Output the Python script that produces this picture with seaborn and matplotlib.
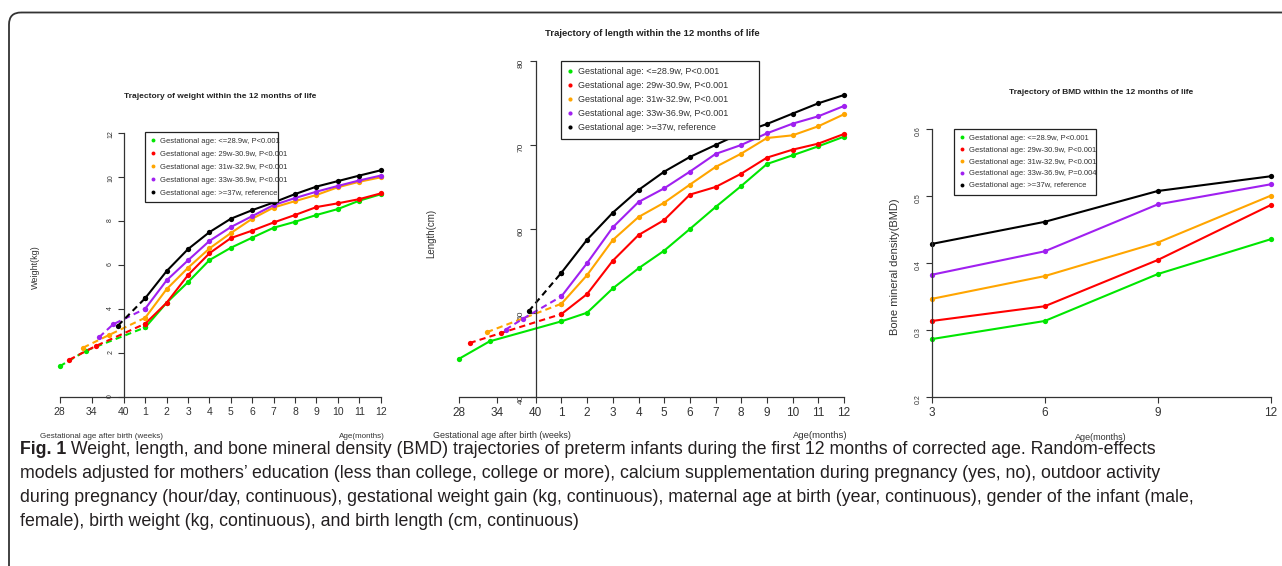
import pandas as pd
import seaborn as sns
import matplotlib.pyplot as plt
from matplotlib.lines import Line2D
from matplotlib.patches import FancyBboxPatch
from matplotlib import font_manager

W, H = 1282, 566

# groups and colours
groups = ["<=28.9w", "29w-30.9w", "31w-32.9w", "33w-36.9w", ">=37w"]
colors = ["#00e600", "#ff0000", "#ffa500", "#a020f0", "#000000"]
months = list(range(1, 13))
bmd_months = [3, 6, 9, 12]

# weight (kg): gestational weeks part + months 1..12
weight_wk = [[28, 32.9], [29.8, 34.8], [32.4, 37.2], [35.4, 38.0], [38.9]]
weight_wk_val = [[1.38, 2.09], [1.68, 2.31], [2.23, 2.80], [2.71, 3.29], [3.23]]
weight_mon = [
    [3.15, 4.27, 5.21, 6.21, 6.77, 7.23, 7.68, 7.95, 8.26, 8.53, 8.91, 9.20],
    [3.32, 4.27, 5.53, 6.52, 7.21, 7.55, 7.92, 8.26, 8.62, 8.79, 8.98, 9.24],
    [3.59, 4.89, 5.86, 6.74, 7.44, 8.09, 8.60, 8.89, 9.17, 9.52, 9.77, 9.97],
    [4.00, 5.29, 6.20, 7.08, 7.71, 8.21, 8.71, 9.03, 9.32, 9.58, 9.83, 10.05],
    [4.48, 5.71, 6.71, 7.48, 8.09, 8.48, 8.83, 9.21, 9.55, 9.80, 10.05, 10.29],
]

# length (cm)
length_wk = [[28, 32.8], [29.7, 34.6], [32.4], [35.3, 38.0], [38.9]]
length_wk_val = [[44.5, 46.6], [46.4, 47.6], [47.7], [48.0, 49.3], [50.2]]
length_mon = [
    [48.99, 50.02, 52.92, 55.31, 57.42, 60.00, 62.62, 65.13, 67.75, 68.79, 69.86, 71.01],
    [49.86, 52.25, 56.22, 59.28, 61.07, 64.10, 65.01, 66.60, 68.51, 69.46, 70.18, 71.33],
    [51.09, 54.51, 58.69, 61.43, 63.14, 65.29, 67.40, 68.99, 70.85, 71.17, 72.25, 73.68],
    [51.97, 55.94, 60.20, 63.22, 64.85, 66.84, 68.95, 70.02, 71.41, 72.56, 73.44, 74.67],
    [54.79, 58.73, 61.95, 64.65, 66.84, 68.59, 70.02, 71.45, 72.52, 73.76, 74.99, 75.98],
]

# BMD
bmd_val = [
    [0.286, 0.313, 0.383, 0.435],
    [0.313, 0.335, 0.404, 0.486],
    [0.346, 0.380, 0.430, 0.500],
    [0.382, 0.417, 0.487, 0.517],
    [0.428, 0.461, 0.507, 0.529],
]

p_wl = ["P<0.001", "P<0.001", "P<0.001", "P<0.001", "reference"]
p_bmd = ["P<0.001", "P<0.001", "P<0.001", "P=0.004", "reference"]

x_ticks_wl = ["28", "34", "40"] + [str(m) for m in months]

caption_lines = [
    " Weight, length, and bone mineral density (BMD) trajectories of preterm infants during the first 12 months of corrected age. Random-effects",
    "models adjusted for mothers\u2019 education (less than college, college or more), calcium supplementation during pregnancy (yes, no), outdoor activity",
    "during pregnancy (hour/day, continuous), gestational weight gain (kg, continuous), maternal age at birth (year, continuous), gender of the infant (male,",
    "female), birth weight (kg, continuous), and birth length (cm, continuous)",
]

sns.set_style("white")
names = {f.name for f in font_manager.fontManager.ttflist}
NARROW = "Liberation Sans Narrow" if "Liberation Sans Narrow" in names else "Liberation Sans"
plt.rcParams["font.family"] = ["Liberation Sans", "DejaVu Sans"]


def build(wk, wk_val, mon_val, solid_pre=()):
    # weeks 28..40 -> positions 0..3, months 1..12 -> positions 4..15
    rows = []
    for g, w, wv, mv in zip(groups, wk, wk_val, mon_val):
        pre = "solid" if g in solid_pre else "dashed"
        for a, b in zip(w, wv):
            rows.append((g, (a - 28) / 4, b, pre))
        rows.append((g, 4, mv[0], pre))
        for m, v in zip(months, mv):
            rows.append((g, m + 3, v, "solid"))
    return pd.DataFrame(rows, columns=["group", "pos", "value", "seg"])


def ax_at(l, t, r, b):
    return fig.add_axes([l / W, 1 - b / H, (r - l) / W, (b - t) / H])


def style_axes(ax, xlim, ylim, xt, xl, yt, yl, yaxis_x, xaxis_y, xb, yb, xfs, yfs, fam, ypad):
    ax.set_xlim(xlim)
    ax.set_ylim(ylim)
    ax.patch.set_alpha(0)
    for s in ["top", "right"]:
        ax.spines[s].set_visible(False)
    ax.spines["left"].set_position(("data", yaxis_x))
    ax.spines["left"].set_bounds(*yb)
    ax.spines["bottom"].set_position(("data", xaxis_y))
    ax.spines["bottom"].set_bounds(*xb)
    for s in ["left", "bottom"]:
        ax.spines[s].set_color("#333333")
        ax.spines[s].set_linewidth(0.9)
    ax.set_xticks(xt, xl)
    ax.set_yticks(yt, yl)
    ax.tick_params(direction="out", length=4, width=0.8, color="#333333",
                   labelcolor="#333333", bottom=True, left=True)
    ax.tick_params(axis="x", labelsize=xfs, pad=3.5)
    ax.tick_params(axis="y", labelsize=yfs, labelrotation=90, pad=ypad)
    for lab in ax.get_xticklabels() + ax.get_yticklabels():
        lab.set_family(fam)
    ax.set_xlabel("")
    ax.set_ylabel("")


def add_legend(ax, pvals, box, fs, spacing, fam, ms):
    x0, y0, x1, y1 = box
    handles = [Line2D([], [], linestyle="none", marker="o", markersize=ms,
                      markeredgewidth=0, color=c) for c in colors]
    labels = [f"Gestational age: {g}, {p}" for g, p in zip(groups, pvals)]
    leg = ax.legend(handles, labels, loc="upper left",
                    bbox_to_anchor=(x0 / W, 1 - y1 / H, (x1 - x0) / W, (y1 - y0) / H),
                    bbox_transform=fig.transFigure, mode="expand",
                    prop={"family": fam, "size": fs}, frameon=True, fancybox=False,
                    edgecolor="#222222", framealpha=1, borderpad=0.7,
                    labelspacing=spacing, handlelength=0.6, handletextpad=0.6,
                    borderaxespad=0)
    leg.get_frame().set_linewidth(0.9)
    for t in leg.get_texts():
        t.set_color("#333333")


def draw_lines(ax, df):
    sns.lineplot(data=df, x="pos", y="value", hue="group", style="seg",
                 hue_order=groups, palette=dict(zip(groups, colors)),
                 dashes={"solid": "", "dashed": (3, 2)}, marker="o", markersize=3.8,
                 markeredgewidth=0, linewidth=1.5, estimator=None, sort=False,
                 legend=False, ax=ax, clip_on=False)


fig = plt.figure(figsize=(W / 100, H / 100), dpi=100, facecolor="white")

bg = fig.add_axes([0, 0, 1, 1])
bg.set_xlim(0, W)
bg.set_ylim(H, 0)
bg.axis("off")
bg.add_patch(FancyBboxPatch((9, 12.5), 1500, 800, boxstyle="round,pad=0,rounding_size=12",
                            fill=False, edgecolor="#333333", linewidth=1.3))

# panel 1: weight
ax1 = ax_at(46.8, 121.7, 393.5, 407.7)
draw_lines(ax1, build(weight_wk, weight_wk_val, weight_mon))
style_axes(ax1, (-0.6, 15.6), (-0.5, 12.5), [0, 1.5, 3] + list(range(4, 16)), x_ticks_wl,
           list(range(0, 13, 2)), [str(v) for v in range(0, 13, 2)], 3, 0, (0, 15), (0, 12),
           7.5, 5, NARROW, 3)
add_legend(ax1, p_wl, (145, 132, 278, 199), 5.5, 0.75, NARROW, 2.8)

# panel 2: length
ax2 = ax_at(443.3, 44.5, 859.4, 413.5)
draw_lines(ax2, build(length_wk, length_wk_val, length_mon, solid_pre=("<=28.9w",)))
style_axes(ax2, (-0.6, 15.6), (38, 82), [0, 1.5, 3] + list(range(4, 16)), x_ticks_wl,
           list(range(40, 81, 10)), [str(v) for v in range(40, 81, 10)], 3, 40, (0, 15), (40, 80),
           8.5, 6, "Liberation Sans", 4)
add_legend(ax2, p_wl, (561, 61, 759, 134), 6.5, 0.55, "Liberation Sans", 3)

# panel 3: BMD
ax3 = ax_at(924.2, 115.3, 1278.2, 410.1)
bmd_df = pd.DataFrame({
    "group": [g for g in groups for _ in bmd_months],
    "pos": bmd_months * len(groups),
    "value": [v for row in bmd_val for v in row],
    "seg": "solid",
})
draw_lines(ax3, bmd_df)
style_axes(ax3, (2.8, 12.2), (0.18, 0.62), bmd_months, [str(m) for m in bmd_months],
           [0.2, 0.3, 0.4, 0.5, 0.6], ["0.2", "0.3", "0.4", "0.5", "0.6"], 3, 0.2, (3, 12), (0.2, 0.6),
           8.5, 5, NARROW, 3)
add_legend(ax3, p_bmd, (954, 129, 1096, 191), 5.5, 0.6, NARROW, 2.8)

# titles and axis labels (pixel positions on the background axes)
tc = "#222222"
bg.text(220, 96, "Trajectory of weight within the 12 months of life", ha="center", va="center",
        fontsize=6, fontweight="bold", family=NARROW, color=tc)
bg.text(652, 34, "Trajectory of length within the 12 months of life", ha="center", va="center",
        fontsize=6.8, fontweight="bold", color=tc)
bg.text(1101, 93, "Trajectory of BMD within the 12 months of life", ha="center", va="center",
        fontsize=6, fontweight="bold", family=NARROW, color=tc)

bg.text(35, 267, "Weight(kg)", rotation=90, ha="center", va="center", fontsize=6.5,
        family=NARROW, color="#333333")
bg.text(431, 233, "Length(cm)", rotation=90, ha="center", va="center", fontsize=7,
        color="#333333")
bg.text(895, 267, "Bone mineral density(BMD)", rotation=90, ha="center", va="center",
        fontsize=8, family=NARROW, color="#333333")

bg.text(40, 436, "Gestational age after birth (weeks)", ha="left", va="center", fontsize=5.8,
        family=NARROW, color="#333333")
bg.text(385, 436, "Age(months)", ha="right", va="center", fontsize=5.8, family=NARROW,
        color="#333333")
bg.text(433, 436, "Gestational age after birth (weeks)", ha="left", va="center", fontsize=6.5,
        color="#333333")
bg.text(848, 436, "Age(months)", ha="right", va="center", fontsize=6.8, color="#333333")
bg.text(1101, 438, "Age(months)", ha="center", va="center", fontsize=6.5, family=NARROW,
        color="#333333")

# caption
cap_fs = 12.8
cy = [450, 474, 498, 522]
fig_lab = bg.text(20, cy[0], "Fig. 1", ha="left", va="center", fontsize=cap_fs,
                  fontweight="bold", family=NARROW, color="#231f20")
bg.annotate(caption_lines[0], xy=(1, 0.5), xycoords=fig_lab, ha="left", va="center",
            fontsize=cap_fs, family=NARROW, color="#231f20")
for y, line in zip(cy[1:], caption_lines[1:]):
    bg.text(20, y, line, ha="left", va="center", fontsize=cap_fs, family=NARROW, color="#231f20")

fig.savefig("out.png", dpi=100, facecolor="white")
